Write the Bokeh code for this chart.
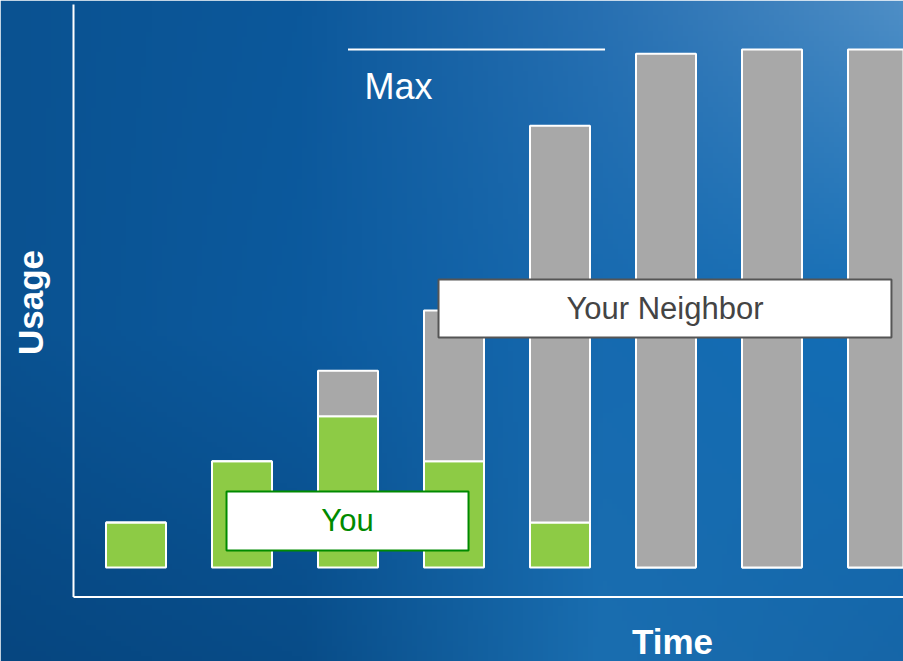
import numpy as np
from bokeh.plotting import figure
from bokeh.models import ColumnDataSource
from bokeh.core.properties import value
from bokeh.embed import file_html
from bokeh.resources import INLINE

# ---- data ----
periods = [1, 2, 3, 4, 5, 6, 7, 8]
you_usage = [8.7, 20.5, 29.2, 20.5, 8.7, 0, 0, 0]
neighbor_usage = [0, 0, 8.8, 29.1, 76.6, 99.2, 100, 100]
max_usage = 100
x_label = "Time"
y_label = "Usage"
you_label = "You"
neighbor_label = "Your Neighbor"
max_label = "Max"

GREEN = "#8DCB45"
GRAY = "#A8A8A8"
FONT = "Liberation Sans"

W, H = 903, 661
X0, X1 = -0.2783, 8.2406
Y0, Y1 = -18.15, 109.46

p = figure(width=W, height=H, x_range=(X0, X1), y_range=(Y0, Y1),
           output_backend="svg", toolbar_location=None,
           x_axis_location=None, y_axis_location=None,
           min_border=0, outline_line_color=None)
p.grid.visible = False

# ---- background gradient (decoration) ----
anchors = np.array([
    [[10, 82, 145], [12, 88, 155], [40, 112, 178], [78, 142, 198]],
    [[10, 82, 145], [12, 90, 158], [22, 106, 176], [18, 110, 182]],
    [[6, 70, 128], [8, 76, 136], [26, 110, 176], [22, 102, 168]],
], dtype=float)
ny, nx = 130, 180
gy = np.linspace(0, anchors.shape[0] - 1, ny)
gx = np.linspace(0, anchors.shape[1] - 1, nx)
img = np.zeros((ny, nx, 3))
for i, yy in enumerate(gy):
    r0 = int(min(np.floor(yy), anchors.shape[0] - 2)); fy = yy - r0
    row = anchors[r0] * (1 - fy) + anchors[r0 + 1] * fy
    for c in range(3):
        img[i, :, c] = np.interp(gx, np.arange(anchors.shape[1]), row[:, c])
img = img[::-1]  # row 0 at bottom
rgba = np.zeros((ny, nx), dtype=np.uint32)
view = rgba.view(dtype=np.uint8).reshape((ny, nx, 4))
view[:, :, 0] = img[:, :, 0].astype(np.uint8)
view[:, :, 1] = img[:, :, 1].astype(np.uint8)
view[:, :, 2] = img[:, :, 2].astype(np.uint8)
view[:, :, 3] = 255
p.image_rgba(image=[rgba], x=X0, y=Y0, dw=X1 - X0, dh=Y1 - Y0)

# ---- bars ----
src = ColumnDataSource(dict(
    x=periods,
    you=you_usage,
    total=[a + b for a, b in zip(you_usage, neighbor_usage)],
))
BW = 0.566
p.vbar(x="x", width=BW, bottom=0, top="you", source=src,
       fill_color=GREEN, line_color="white", line_width=2)
p.vbar(x="x", width=BW, bottom="you", top="total", source=src,
       fill_color=GRAY, line_color="white", line_width=2)

# ---- axis lines ----
ax_x = 0.4104
ax_y = -5.7
p.segment(x0=[ax_x], y0=[ax_y], x1=[ax_x], y1=[108.69], line_color="white", line_width=2)
p.segment(x0=[ax_x], y0=[ax_y], x1=[X1], y1=[ax_y], line_color="white", line_width=2)

# ---- max line ----
p.segment(x0=[3.0], y0=[max_usage], x1=[5.425], y1=[max_usage],
          line_color="white", line_width=2)
p.text(x=[3.156], y=[92.86], text=[max_label],
       text_font=value(FONT), text_font_size="36px", text_color="white",
       text_align="left", text_baseline="middle")

# ---- legend-like boxes ----
p.quad(left=[1.854], right=[4.137], bottom=[3.28], top=[14.67],
       fill_color="white", line_color="#008A00", line_width=2)
p.text(x=[2.995], y=[8.98], text=[you_label],
       text_font=value(FONT), text_font_size="31px", text_color="#008A00",
       text_align="center", text_baseline="middle")

p.quad(left=[3.854], right=[8.127], bottom=[44.4], top=[55.6],
       fill_color="white", line_color="#555555", line_width=2)
p.text(x=[5.99], y=[50.0], text=[neighbor_label],
       text_font=value(FONT), text_font_size="31px", text_color="#444444",
       text_align="center", text_baseline="middle")

# ---- axis titles ----
p.text(x=[6.061], y=[-14.29], text=[x_label],
       text_font=value(FONT), text_font_size="35px", text_font_style="bold",
       text_color="white", text_align="center", text_baseline="middle")
p.text(x=[0.0047], y=[51.16], text=[y_label], angle=np.pi / 2,
       text_font=value(FONT), text_font_size="35px", text_font_style="bold",
       text_color="white", text_align="center", text_baseline="middle")

open("out.html", "w").write(file_html(p, INLINE))
